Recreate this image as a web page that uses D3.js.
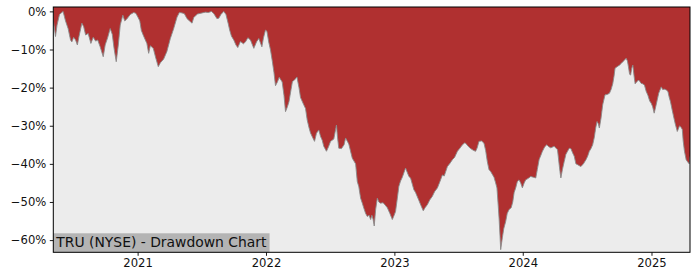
<!DOCTYPE html>
<html>
<head>
<meta charset="utf-8">
<script src="https://cdn.jsdelivr.net/npm/d3@7"></script>
<style>
body { margin: 0; background: #fff; }
text { font-family: "DejaVu Sans", sans-serif; }
</style>
</head>
<body>
<svg id="chart" width="700" height="280"></svg>
<script>
// dates as decimal years
var years = [2020.345,2020.362,2020.374,2020.393,2020.421,2020.440,2020.460,2020.479,2020.489,2020.503,
2020.518,2020.532,2020.545,2020.567,2020.581,2020.596,2020.616,2020.637,2020.655,2020.674,
2020.690,2020.709,2020.733,2020.748,2020.768,2020.787,2020.803,2020.817,2020.834,2020.850,
2020.865,2020.885,2020.900,2020.916,2020.943,2020.970,2020.986,2021.002,2021.017,2021.029,
2021.047,2021.072,2021.086,2021.099,2021.122,2021.142,2021.161,2021.177,2021.203,2021.228,
2021.255,2021.281,2021.307,2021.325,2021.346,2021.364,2021.385,2021.411,2021.424,2021.437,
2021.466,2021.502,2021.528,2021.551,2021.575,2021.594,2021.618,2021.632,2021.649,2021.671,
2021.688,2021.705,2021.717,2021.731,2021.749,2021.766,2021.780,2021.801,2021.824,2021.840,
2021.859,2021.879,2021.905,2021.926,2021.944,2021.968,2021.980,2021.996,2022.007,2022.021,
2022.035,2022.048,2022.062,2022.074,2022.089,2022.103,2022.126,2022.140,2022.152,2022.167,
2022.179,2022.195,2022.206,2022.222,2022.241,2022.257,2022.269,2022.294,2022.308,2022.321,
2022.335,2022.347,2022.362,2022.378,2022.393,2022.411,2022.425,2022.438,2022.450,2022.471,
2022.487,2022.503,2022.528,2022.549,2022.557,2022.567,2022.588,2022.608,2022.620,2022.645,
2022.672,2022.698,2022.711,2022.723,2022.737,2022.750,2022.762,2022.776,2022.789,2022.803,
2022.815,2022.825,2022.834,2022.843,2022.854,2022.867,2022.879,2022.892,2022.912,2022.928,
2022.945,2022.965,2022.984,2022.998,2023.009,2023.023,2023.035,2023.048,2023.062,2023.087,
2023.113,2023.126,2023.152,2023.165,2023.191,2023.208,2023.225,2023.239,2023.257,2023.275,
2023.296,2023.313,2023.335,2023.353,2023.374,2023.388,2023.413,2023.430,2023.452,2023.469,
2023.491,2023.508,2023.530,2023.547,2023.555,2023.575,2023.594,2023.618,2023.633,2023.645,
2023.659,2023.680,2023.698,2023.711,2023.724,2023.737,2023.750,2023.776,2023.789,2023.799,
2023.809,2023.816,2023.823,2023.828,2023.841,2023.852,2023.867,2023.879,2023.893,2023.910,
2023.922,2023.933,2023.945,2023.958,2023.971,2023.984,2023.997,2024.011,2024.023,2024.043,
2024.062,2024.082,2024.101,2024.113,2024.127,2024.140,2024.153,2024.171,2024.187,2024.202,
2024.218,2024.244,2024.270,2024.283,2024.291,2024.296,2024.308,2024.322,2024.335,2024.348,
2024.361,2024.374,2024.386,2024.400,2024.413,2024.426,2024.440,2024.452,2024.471,2024.491,
2024.504,2024.517,2024.530,2024.543,2024.556,2024.567,2024.577,2024.587,2024.595,2024.608,
2024.621,2024.639,2024.655,2024.673,2024.686,2024.699,2024.709,2024.717,2024.733,2024.751,
2024.764,2024.777,2024.790,2024.803,2024.813,2024.821,2024.830,2024.838,2024.846,2024.855,
2024.865,2024.873,2024.885,2024.899,2024.908,2024.920,2024.931,2024.945,2024.959,2024.972,
2024.986,2024.998,2025.009,2025.021,2025.033,2025.045,2025.056,2025.076,2025.087,2025.101,
2025.115,2025.128,2025.138,2025.148,2025.162,2025.175,2025.185,2025.201,2025.219,2025.232,
2025.240,2025.247,2025.257,2025.270,2025.282,2025.294,2025.300];

// drawdown from running peak, in %
var drawdown = [-2.3,-6.6,-3.6,-0.8,0,-2.5,-4.5,-7.5,-8,-6.8,
-7.5,-8.8,-6.5,-3.1,-4,-6.2,-5.8,-8.4,-6.8,-7.8,
-7.5,-9.3,-11.9,-8.8,-6.8,-4.5,-6,-9.7,-13.2,-8.8,
-3.6,-1,-2.5,-2,-0.8,-0.3,-0.5,-1.5,-2.5,-5,
-6.5,-8.4,-11,-9,-9.7,-12.3,-14.5,-13.5,-12.5,-10.5,
-7.1,-4.5,-1.5,-0.3,-0.4,-0.6,-1.9,-2.7,-3.1,-1.6,
-0.7,-0.4,-0.2,-0.3,0,-0.6,-1.9,-1.8,-0.8,0,
-0.8,-3.1,-4.9,-6.5,-7.5,-8.8,-9.5,-7.9,-8.5,-8,
-6.9,-7.5,-9.7,-8,-7.1,-9.3,-7,-4.9,-5.2,-8,
-10.1,-12.8,-16,-19.5,-18.5,-17.3,-18.5,-22,-26.3,-25,
-23.7,-20.5,-18.4,-18,-17.2,-20,-22.6,-24.5,-25.5,-28.5,
-30.5,-31.9,-33,-34.1,-32,-31.1,-32.8,-33.8,-35.4,-36.7,
-35.5,-34.1,-33.5,-29.8,-33,-35.9,-36,-35,-33.2,-34.8,
-38.5,-40,-44.6,-46,-49,-50.3,-51.6,-53,-53.8,-53.5,
-54.6,-53.5,-54.5,-56.3,-52,-49,-50,-50.3,-50.2,-50.8,
-51.5,-53,-54.6,-53.5,-52.5,-49,-45.9,-44.5,-43.5,-41.1,
-43.3,-43.7,-46.8,-47.5,-49.6,-51,-52.3,-51.5,-50.7,-49.5,
-48.5,-47.3,-46.3,-44.8,-42.9,-43.2,-40.7,-40,-38.9,-38.3,
-36.7,-36,-35,-34.5,-34.6,-35.4,-36,-36.5,-36.7,-35.8,
-34.1,-34,-34.6,-36.5,-39.4,-41.5,-42,-43.5,-45,-46.3,
-51,-54.5,-59,-62.5,-59.4,-57,-55.1,-53,-52,-51.5,
-50,-47.5,-46.3,-44.6,-44.2,-45,-46.3,-45,-44.2,-43.8,
-43.3,-43.5,-43.7,-41.5,-38.9,-37.8,-36.7,-35.5,-35,-35.5,
-35.8,-35.4,-36.3,-40.2,-42.5,-43.7,-41.5,-39.4,-37.5,-36.7,
-35.9,-36,-37,-38,-40,-40.2,-40.5,-40.7,-40,-38.9,
-38,-36.7,-36,-35,-33,-30.5,-28.9,-29.5,-30.6,-28,
-24.5,-21.9,-21.8,-21.5,-20.5,-19,-17,-14.9,-14.5,-14.1,
-13.7,-13.2,-12.8,-12.3,-13,-14.5,-16.5,-16.7,-15,-14.1,
-17,-19,-18.5,-18,-18.3,-18.9,-19,-19.3,-21,-22,
-23.5,-24.1,-25,-26.7,-25,-23.2,-21.5,-19.8,-20.5,-20.4,
-20.6,-21,-22.5,-23.7,-26,-28,-29.5,-31.5,-30,-30.5,
-31,-34,-36.7,-38.9,-39.5,-40,-38];

var yTicks = [0, -10, -20, -30, -40, -50, -60];
var xTicks = [2021, 2022, 2023, 2024, 2025];
var title = "TRU (NYSE) - Drawdown Chart";

function toDate(y) {
    var yr = Math.floor(y);
    var start = Date.UTC(yr, 0, 1), end = Date.UTC(yr + 1, 0, 1);
    return new Date(start + (y - yr) * (end - start));
}

var n = Math.min(years.length, drawdown.length);
var data = years.slice(0, n).map((y, i) => ({ date: toDate(y), value: drawdown[i] }));

var plotLeft = 53.3, plotRight = 690, plotTop = 7, plotBottom = 252.3;

var xScale = d3.scaleUtc().domain(d3.extent(data, d => d.date)).range([plotLeft, plotRight]);
var yScale = d3.scaleLinear().domain([-63.2, 1.15]).range([plotBottom, plotTop]);

var svg = d3.select("#chart");

svg.append("clipPath").attr("id", "clip")
    .append("rect")
    .attr("x", plotLeft).attr("y", plotTop)
    .attr("width", plotRight - plotLeft).attr("height", plotBottom - plotTop);

// plot background
svg.append("rect")
    .attr("x", plotLeft).attr("y", plotTop)
    .attr("width", plotRight - plotLeft).attr("height", plotBottom - plotTop)
    .attr("fill", "#ececec");

var g = svg.append("g").attr("clip-path", "url(#clip)");

// red area from top of axes down to the drawdown
var area = d3.area()
    .x(d => xScale(d.date))
    .y0(yScale(yScale.domain()[1]))
    .y1(d => yScale(d.value));

g.append("path")
    .datum(data)
    .attr("d", area)
    .attr("fill", "#b03030");

var line = d3.line()
    .x(d => xScale(d.date))
    .y(d => yScale(d.value));

g.append("path")
    .datum(data)
    .attr("d", line)
    .attr("fill", "none")
    .attr("stroke", "#8a8a8a")
    .attr("stroke-width", 0.9);

// label box at bottom left
var label = svg.append("g");
var lbox = label.append("rect")
    .attr("fill", "#b4b4b4");
var ltext = label.append("text")
    .attr("x", plotLeft + 3)
    .attr("y", 246.8)
    .attr("font-size", "13.9px")
    .attr("fill", "#111")
    .text(title);
var bb = ltext.node().getBBox();
lbox.attr("x", plotLeft).attr("y", 233.3)
    .attr("width", bb.x + bb.width + 2.5 - plotLeft)
    .attr("height", plotBottom - 233.3);

// axes
var yAxis = d3.axisLeft(yScale)
    .tickValues(yTicks)
    .tickSize(3.5)
    .tickPadding(3.5)
    .tickFormat(d => (d < 0 ? "\u2212" + (-d) : d) + "%");

svg.append("g")
    .attr("transform", "translate(" + plotLeft + ",0)")
    .call(yAxis)
    .call(a => a.select(".domain").remove())
    .selectAll("text")
    .attr("font-size", "11.6px")
    .attr("fill", "#111")
    .attr("font-family", "DejaVu Sans, sans-serif");

var xAxis = d3.axisBottom(xScale)
    .tickValues(xTicks.map(y => new Date(Date.UTC(y, 0, 1))))
    .tickSize(3.5)
    .tickPadding(3)
    .tickFormat(d3.utcFormat("%Y"));

svg.append("g")
    .attr("transform", "translate(0," + plotBottom + ")")
    .call(xAxis)
    .call(a => a.select(".domain").remove())
    .selectAll("text")
    .attr("font-size", "11.6px")
    .attr("fill", "#111")
    .attr("font-family", "DejaVu Sans, sans-serif");

svg.selectAll(".tick line").attr("stroke", "#000").attr("stroke-width", 0.9);

// frame
svg.append("rect")
    .attr("x", plotLeft).attr("y", plotTop)
    .attr("width", plotRight - plotLeft).attr("height", plotBottom - plotTop)
    .attr("fill", "none")
    .attr("stroke", "#000")
    .attr("stroke-width", 1);
</script>
</body>
</html>
